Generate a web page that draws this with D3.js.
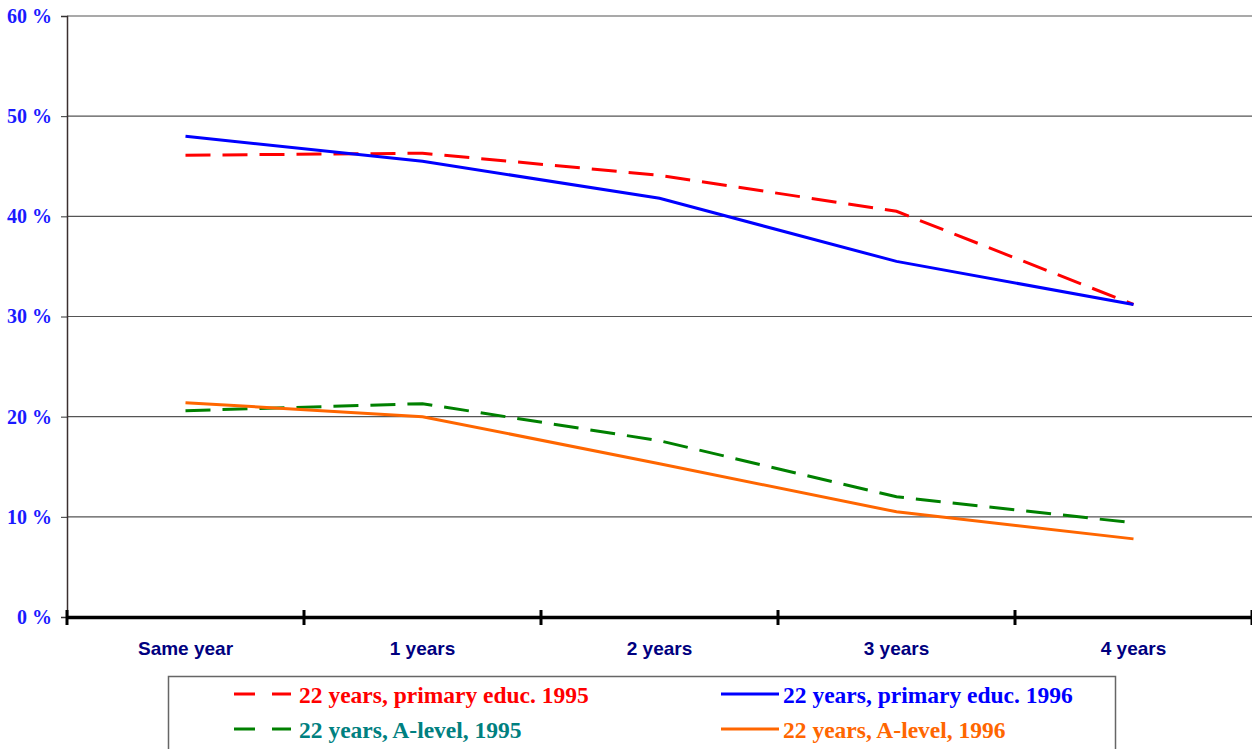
<!DOCTYPE html>
<html><head><meta charset="utf-8">
<script src="https://cdn.jsdelivr.net/npm/d3@7"></script>
<style>body{margin:0;background:#fff}svg{display:block}</style>
</head><body><svg id="c" width="1252" height="749"></svg>
<script>
const categories = ["Same year","1 years","2 years","3 years","4 years"];
const yTicks = [0,10,20,30,40,50,60];
const primary1995 = [46.1,46.3,44.1,40.5,31.2];
const primary1996 = [48.0,45.5,41.8,35.5,31.2];
const alevel1995 = [20.6,21.3,17.6,12.0,9.4];
const alevel1996 = [21.4,20.0,15.3,10.5,7.8];
const seriesNames = ["22 years, primary educ. 1995","22 years, primary educ. 1996","22 years, A-level, 1995","22 years, A-level, 1996"];

const series = [
  {name:seriesNames[0], values:primary1995, color:"#ff0000", text:"#ff0000", dash:"25,12"},
  {name:seriesNames[1], values:primary1996, color:"#0000ff", text:"#0000ff", dash:null},
  {name:seriesNames[2], values:alevel1995, color:"#008000", text:"#008080", dash:"25,12"},
  {name:seriesNames[3], values:alevel1996, color:"#ff6600", text:"#ff6600", dash:null}
];

const svg = d3.select("#c");
const L=67, R=1252, T=16, B=617;
const x = d3.scaleBand().domain(categories).range([L,R]);
const y = d3.scaleLinear().domain([0,60]).range([B,T]);

// gridlines
svg.append("g").selectAll("line").data(yTicks.filter(d=>d>0)).join("line")
  .attr("x1",L).attr("x2",R).attr("y1",d=>y(d)).attr("y2",d=>y(d))
  .attr("stroke","#555").attr("stroke-width",1.2);

// y axis
const ya = svg.append("g").attr("transform",`translate(${L},0)`)
  .call(d3.axisLeft(y).tickValues(yTicks).tickSize(6).tickFormat(d=>d+" %"));
ya.select(".domain").attr("stroke","#3a2f2f").attr("stroke-width",1.5);
ya.selectAll(".tick line").attr("stroke","#333");
ya.selectAll(".tick text").attr("fill","#1a1aff").attr("font-family","Liberation Serif, serif")
  .attr("font-weight","bold").attr("font-size","20px").attr("x",-15);

// x axis
const xa = svg.append("g").attr("transform",`translate(0,${B})`)
  .call(d3.axisBottom(x).tickSize(0));
xa.select(".domain").attr("stroke","#000").attr("stroke-width",3.5);
xa.selectAll(".tick text").attr("fill","#00007f").attr("font-family","Liberation Sans, Arial, sans-serif")
  .attr("font-weight","bold").attr("font-size","19px").attr("y",38).attr("dy",0);
// category boundary ticks
const bounds = categories.map(c=>x(c)).concat([R]);
svg.append("g").selectAll("line").data(bounds).join("line")
  .attr("x1",d=>d).attr("x2",d=>d).attr("y1",B-7).attr("y2",B+8)
  .attr("stroke","#000").attr("stroke-width",3);

// lines
const line = d3.line().x((d,i)=>x(categories[i])+x.bandwidth()/2).y(d=>y(d));
svg.append("g").selectAll("path").data(series).join("path")
  .attr("d",d=>line(d.values)).attr("fill","none")
  .attr("stroke",d=>d.color).attr("stroke-width",3)
  .attr("stroke-dasharray",d=>d.dash);

// legend
const lg = svg.append("g");
lg.append("rect").attr("x",168.5).attr("y",676.5).attr("width",947).attr("height",100)
  .attr("fill","#fff").attr("stroke","#666").attr("stroke-width",1.5);
const pos = [[234,694],[721,694],[234,729],[721,729]];
series.forEach((s,i)=>{
  const [px,py]=pos[i];
  lg.append("line").attr("x1",px).attr("x2",px+(s.dash?57:58)).attr("y1",py).attr("y2",py)
    .attr("stroke",s.color).attr("stroke-width",3).attr("stroke-dasharray",s.dash?"21,17":null);
  lg.append("text").attr("x",px+(s.dash?65:62)).attr("y",py+9).text(s.name)
    .attr("fill",s.text).attr("font-family","Liberation Serif, serif").attr("font-weight","bold")
    .attr("font-size","23.5px");
});
</script></body></html>
